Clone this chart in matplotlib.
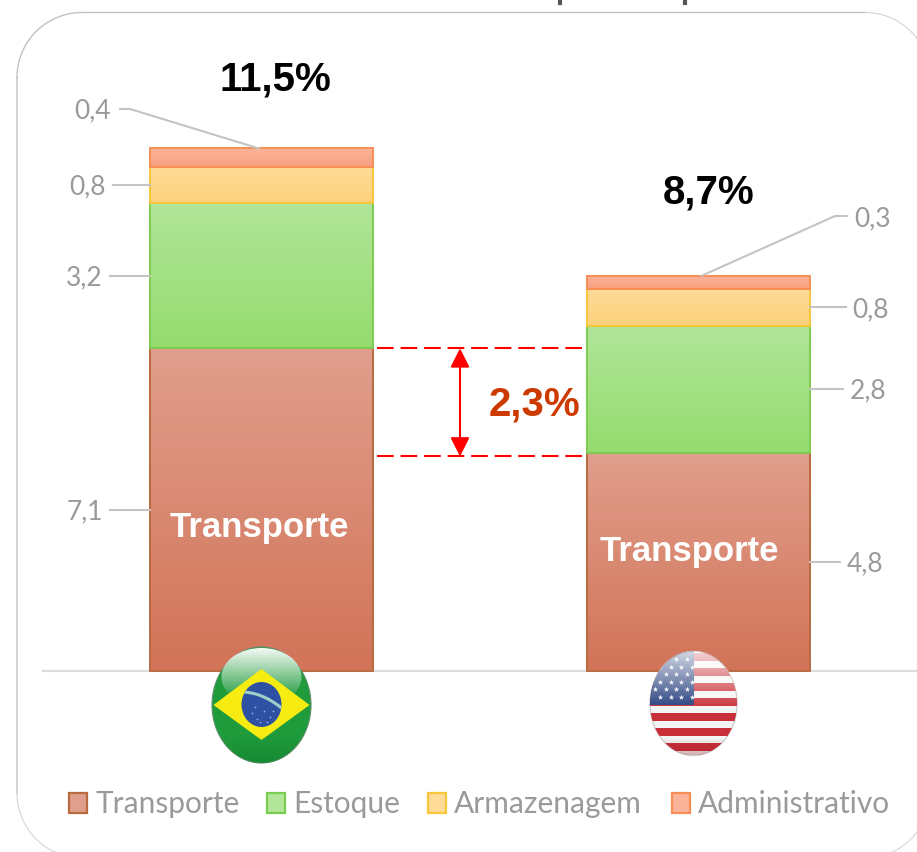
import numpy as np
import matplotlib
matplotlib.use('Agg')
import matplotlib.pyplot as plt
from matplotlib.colors import LinearSegmentedColormap, to_rgb
from matplotlib.patches import Ellipse, FancyArrowPatch, Polygon, Rectangle

# data
countries = ['Brasil', 'EUA']
categories = ['Transporte', 'Estoque', 'Armazenagem', 'Administrativo']
brazil = [7.1, 3.2, 0.8, 0.4]
usa = [4.8, 2.8, 0.8, 0.3]
totals = ['11,5%', '8,7%']
gap_label = '2,3%'
gap_top = 7.1
gap_bottom = 4.72

grad_top = ['#E09E8C', '#B1E599', '#FEDB98', '#FBB49A']
grad_bottom = ['#D27458', '#95DC6E', '#FDD17B', '#F89F7F']
edges = ['#BA6A40', '#7CCB52', '#F8C63A', '#F78E55']
legend_x = [69, 267, 428, 672]
legend_text_x = [96, 293, 454, 698]

W, H = 917, 852
fig = plt.figure(figsize=(W / 100, H / 100), dpi=100)

# bars live in a normal data axes, pixel positions only set its limits
px_per_unit = 45.45
px_per_cat = 436.5
ax = fig.add_axes([0, 0, 1, 1])
ax.axis('off')

# overlay in pixels for frame, flags and legend
pa = fig.add_axes([0, 0, 1, 1])
pa.axis('off')
pa.patch.set_alpha(0)

grey = '#9A9A9A'
leader = '#C4C4C4'
label_size = 19
bar_w = 223 / px_per_cat


def to_px(x, y):
    return 261.5 + x * px_per_cat, 671 - y * px_per_unit


ax.plot([(43 - 261.5) / px_per_cat, 2], [0, 0], color='#DDDDDD', lw=1.6, zorder=1)

# stacked bars with a vertical gradient in each piece
for i, values in enumerate([brazil, usa]):
    bottom = 0
    for j, v in enumerate(values):
        cmap = LinearSegmentedColormap.from_list('g', [grad_top[j], grad_bottom[j]])
        ax.imshow(np.linspace(0, 1, 64).reshape(-1, 1), cmap=cmap, aspect='auto', zorder=2,
                  extent=[i - bar_w / 2, i + bar_w / 2, bottom, bottom + v])
        ax.bar(i, v, bar_w, bottom=bottom, facecolor='none', edgecolor=edges[j], lw=1.4, zorder=3)
        bottom += v
ax.set_xlim(-261.5 / px_per_cat, (W - 261.5) / px_per_cat)
ax.set_ylim(-(H - 671) / px_per_unit, 671 / px_per_unit)


def side_label(i, y, txt, side, length, gap=7):
    x0, py = to_px(i + side * bar_w / 2, y)
    x1 = x0 + side * length
    pa.plot([x0, x1], [py, py], color=leader, lw=1.5, zorder=4)
    pa.text(x1 + side * gap, py + 2, txt, color=grey, fontsize=label_size, family='Lato',
            ha='right' if side < 0 else 'left', va='center')


def fmt(v):
    return str(v).replace('.', ',')


for y, v, length in [(brazil[0] / 2, brazil[0], 40), (brazil[0] + brazil[1] / 2, brazil[1], 40),
                     (brazil[0] + brazil[1] + brazil[2] / 2, brazil[2], 37)]:
    side_label(0, y, fmt(v), -1, length)
for y, v, length in [(usa[0] / 2, usa[0], 30), (usa[0] + usa[1] / 2, usa[1], 33),
                     (usa[0] + usa[1] + usa[2] / 2, usa[2], 36)]:
    side_label(1, y, fmt(v), 1, length)

# the two smallest pieces get angled leaders from the top of the bar
xt, yt = to_px(0, sum(brazil))
pa.plot([xt - 3, 130, 120], [yt, 109, 109], color=leader, lw=1.5, zorder=4)
pa.text(111, 111, fmt(brazil[3]), color=grey, fontsize=label_size, family='Lato', ha='right', va='center')
xt, yt = to_px(1, sum(usa))
pa.plot([xt + 4, 835, 847], [yt, 216, 216], color=leader, lw=1.5, zorder=4)
pa.text(854, 219, fmt(usa[3]), color=grey, fontsize=label_size, family='Lato', ha='left', va='center')

bold = 'Liberation Sans'
pa.text(275, 79.5, totals[0], fontsize=29, fontweight='bold', family=bold, ha='center', va='center', color='black')
pa.text(709, 192, totals[1], fontsize=29, fontweight='bold', family=bold, ha='center', va='center', color='black')
pa.text(259, 527, categories[0], fontsize=25, fontweight='bold', family=bold, ha='center', va='center', color='white', zorder=6)
pa.text(689, 551, categories[0], fontsize=25, fontweight='bold', family=bold, ha='center', va='center', color='white', zorder=6)
pa.text(534, 404.5, gap_label, fontsize=29, fontweight='bold', family=bold, ha='center', va='center', color='#CC3A00')

# difference marker between the two transport bars
for y in [gap_top, gap_bottom]:
    ax.plot([0 + 115 / px_per_cat, 1 - 113 / px_per_cat], [y, y], color='#FF0000', lw=1.5,
            dashes=(8, 3.3), zorder=5)
arrow_x = (460 - 261.5) / px_per_cat
ax.add_patch(FancyArrowPatch((arrow_x, gap_top), (arrow_x, gap_bottom), shrinkA=0, shrinkB=0,
                             arrowstyle='<|-|>,head_length=1.15,head_width=0.58', mutation_scale=10,
                             color='#FF0000', lw=1.5, zorder=5))

# frame, straight sides stronger than the faint corners
fl, ft, fr, fb, rad = 17, 12.5, 930, 858, 65
ang = np.radians(np.linspace(180, 270, 40))
pa.plot(np.r_[fl, fl, fl + rad + rad * np.cos(ang), fr - rad],
        np.r_[fb - rad, ft + rad, ft + rad + rad * np.sin(ang), ft], color='#C2C2C2', lw=1.0, zorder=0)
for cx, cy, a0 in [(fr - rad, ft + rad, 270), (fl + rad, fb - rad, 90), (fr - rad, fb - rad, 0)]:
    ang = np.radians(np.linspace(a0, a0 + 90, 40))
    pa.plot(cx + rad * np.cos(ang), cy + rad * np.sin(ang), color='#D4D4D4', lw=0.8, zorder=0)
pa.plot([560, 560], [0, 2.5], color='#555555', lw=3)
pa.plot([685, 685], [0, 2.5], color='#555555', lw=3)


def gloss(el, x0, x1, y0, y1, color, a0, a1, z):
    # translucent vertical ramp clipped to the flag outline
    rgba = np.zeros((64, 1, 4))
    rgba[..., :3] = to_rgb(color)
    rgba[..., 3] = np.linspace(a0, a1, 64).reshape(-1, 1)
    im = pa.imshow(rgba, extent=[x0, x1, y1, y0], aspect='auto', zorder=z)
    im.set_clip_path(el)


# Brazil flag
bx, by = 261.5, 705
el = Ellipse((bx, by), 99, 116, fc='#1F9B3C', ec='#5E8F6A', lw=0.8, zorder=7)
pa.add_patch(el)
inner = Ellipse((bx, by - 28), 80, 58, fc='none', ec='none', zorder=7)
pa.add_patch(inner)
gloss(inner, bx - 42, bx + 42, by - 57, by - 5, 'white', 0.95, 0.0, 7.5)
pa.add_patch(Polygon([(bx - 48, by), (bx, by - 36), (bx + 48, by), (bx, by + 35)], fc='#F7EC12', ec='none', zorder=8))
blue = Ellipse((bx, by - 0.5), 40, 45, fc='#2F51A3', ec='none', zorder=9)
pa.add_patch(blue)
t = np.linspace(-1, 1, 30)
band, = pa.plot(bx + 20 * t, by - 7 + 8 * t + 4 * t * t - 2, color='#9FCFC8', lw=2.2, zorder=10)
band.set_clip_path(blue)
sx, sy = bx + np.array([-10, -5, 2, 8, -2, 5, 11, -7]), by + np.array([8, 14, 6, 12, 17, 17, 6, 2])
pa.scatter(sx, sy, s=1.5, color='#9DB2DE', linewidths=0, zorder=10)
gloss(el, bx - 50, bx + 50, by + 30, by + 58, '#0E7A2B', 0.0, 0.5, 11)

# USA flag
ux, uy = 693.5, 703.5
el = Ellipse((ux, uy), 87, 104, fc='#F4F4F4', ec='#CFCFCF', lw=1.0, zorder=7)
pa.add_patch(el)
for yy in np.arange(657, 760, 15):
    r = Rectangle((ux - 46, yy - 3.8), 92, 7.6, fc='#C92F38', ec='none', zorder=8)
    pa.add_patch(r)
    r.set_clip_path(el)
can = Rectangle((ux - 46, 650), 46, 55, fc='#233D7C', ec='none', zorder=9)
pa.add_patch(can)
can.set_clip_path(el)
sx, sy = [], []
for row, yy in enumerate(np.arange(659, 703, 7.5)):
    for xx in np.arange(655 + (row % 2) * 5, 694, 10.5):
        sx.append(xx)
        sy.append(yy)
stars = pa.scatter(sx, sy, s=16, color='white', marker='*', linewidths=0, zorder=10)
stars.set_clip_path(el)
gloss(el, ux - 46, ux + 46, uy - 52, uy + 8, 'white', 0.8, 0.0, 11)
gloss(el, ux - 46, ux + 46, uy + 35, uy + 52, '#8A1A20', 0.0, 0.3, 11)

# legend
for j, cat in enumerate(categories):
    pa.add_patch(Rectangle((legend_x[j], 793), 18, 20, fc=grad_top[j], ec=edges[j], lw=1.6, zorder=4))
    pa.text(legend_text_x[j], 813, cat, color=grey, fontsize=21.5, family='Lato', ha='left', va='baseline')

pa.set_xlim(0, W)
pa.set_ylim(H, 0)

fig.savefig('out.png', dpi=100)
